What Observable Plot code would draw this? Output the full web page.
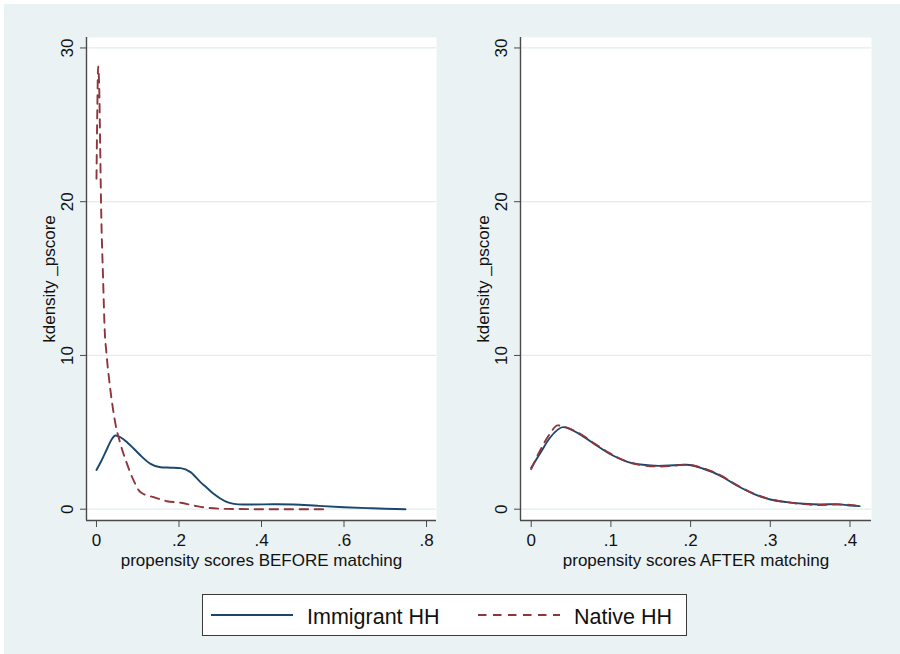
<!DOCTYPE html>
<html>
<head>
<meta charset="utf-8">
<script src="https://cdn.jsdelivr.net/npm/d3@7"></script>
<script src="https://cdn.jsdelivr.net/npm/@observablehq/plot@0.6"></script>
<style>
  html, body { margin: 0; padding: 0; background: #ffffff; }
  #page { position: relative; width: 900px; height: 654px; overflow: hidden;
          font-family: "Liberation Sans", Arial, sans-serif; }
  #bg { position: absolute; left: 4px; top: 4px; width: 896px; height: 650px; background: #EAF2F3; }
  .panel { position: absolute; top: 0; }
  #legend { position: absolute; left: 202px; top: 594px; }
</style>
</head>
<body>
<div id="page">
  <div id="bg"></div>
  <div id="left" class="panel" style="left:0px"></div>
  <div id="right" class="panel" style="left:450px"></div>
  <div id="legend"></div>
</div>
<script>
// Series
const seriesNames = ["Immigrant HH", "Native HH"];
const seriesColors = ["#1A476F", "#90353B"];
const seriesDash = [null, "8.5,6.5"];

// Kernel density of the propensity score, before matching
const beforeImmigrantX = [0, 0.012, 0.026, 0.036, 0.046, 0.06, 0.074, 0.09, 0.107, 0.131, 0.155, 0.18, 0.204, 0.228, 0.252, 0.268, 0.284, 0.3, 0.317, 0.333, 0.355, 0.381, 0.43, 0.478, 0.535, 0.6, 0.656, 0.7, 0.749];
const beforeImmigrantY = [2.55, 3.15, 3.95, 4.5, 4.79, 4.65, 4.36, 3.95, 3.49, 2.95, 2.73, 2.7, 2.67, 2.41, 1.76, 1.38, 1.0, 0.7, 0.46, 0.35, 0.31, 0.31, 0.32, 0.31, 0.22, 0.13, 0.07, 0.03, 0.0];
const beforeNativeX = [0, 0.002, 0.004, 0.007, 0.009, 0.011, 0.016, 0.02, 0.024, 0.034, 0.046, 0.058, 0.074, 0.09, 0.107, 0.139, 0.171, 0.204, 0.236, 0.268, 0.317, 0.4, 0.563];
const beforeNativeY = [21.5, 26, 28.8, 27, 23.5, 20, 15, 11.6, 10.2, 7.7, 5.55, 4.25, 2.95, 1.87, 1.1, 0.78, 0.52, 0.42, 0.24, 0.09, 0.02, 0.0, 0.0];

// Kernel density of the propensity score, after matching
const afterImmigrantX = [0, 0.012, 0.024, 0.04, 0.06, 0.08, 0.1, 0.12, 0.14, 0.16, 0.18, 0.195, 0.216, 0.237, 0.258, 0.279, 0.3, 0.321, 0.342, 0.363, 0.384, 0.4, 0.412];
const afterImmigrantY = [2.69, 3.71, 4.68, 5.34, 4.9, 4.21, 3.56, 3.1, 2.89, 2.82, 2.86, 2.89, 2.63, 2.19, 1.54, 1.0, 0.63, 0.46, 0.35, 0.31, 0.33, 0.24, 0.2];
const afterNativeX = [0, 0.012, 0.024, 0.033, 0.045, 0.06, 0.08, 0.1, 0.12, 0.14, 0.16, 0.18, 0.195, 0.216, 0.237, 0.258, 0.279, 0.3, 0.321, 0.342, 0.363, 0.384, 0.4, 0.412];
const afterNativeY = [2.6, 3.9, 4.95, 5.45, 5.3, 4.95, 4.25, 3.6, 3.1, 2.85, 2.78, 2.84, 2.9, 2.66, 2.22, 1.57, 1.02, 0.65, 0.45, 0.33, 0.27, 0.3, 0.28, 0.2];

// Axis ticks and titles
const beforeXTicks = [0, 0.2, 0.4, 0.6, 0.8];
const afterXTicks = [0, 0.1, 0.2, 0.3, 0.4];
const yTicks = [0, 10, 20, 30];
const yTitle = "kdensity _pscore";
const beforeXTitle = "propensity scores BEFORE matching";
const afterXTitle = "propensity scores AFTER matching";

const fontFamily = "'Liberation Sans', Arial, sans-serif";
const axisColor = "#4a4a4a";
const gridColor = "#E2EBED";

const toRows = (xs, ys) => xs.map((x, i) => ({x, y: ys[i]}));
const stataFormat = d => d === 0 ? "0" : String(+d.toFixed(2)).replace(/^0\./, ".");

function panel({marginLeft, marginRight, xDomain, xTicks, xTitle, curves}) {
  const yDomain = [-0.735, 30.68];
  return Plot.plot({
    width: 450,
    height: 580,
    marginLeft, marginRight,
    marginTop: 37,
    marginBottom: 60,
    style: {background: "transparent", fontFamily, fontSize: "17px", color: "#111", overflow: "visible"},
    x: {domain: xDomain, label: null},
    y: {domain: yDomain, label: null},
    marks: [
      Plot.frame({fill: "white", stroke: null}),
      Plot.ruleY(yTicks, {stroke: gridColor, strokeWidth: 1.3}),
      ...curves.map((rows, i) => Plot.line(rows, {
        x: "x", y: "y",
        stroke: seriesColors[i],
        strokeWidth: 1.9,
        strokeDasharray: seriesDash[i],
        curve: "monotone-x"
      })),
      Plot.ruleX([xDomain[0]], {stroke: axisColor, strokeWidth: 1.4}),
      Plot.ruleY([yDomain[0]], {stroke: axisColor, strokeWidth: 1.4}),
      Plot.axisX(xTicks, {tickSize: 7, tickPadding: 6, tickFormat: stataFormat, stroke: axisColor, label: null}),
      Plot.axisY(yTicks, {tickSize: 6, tickPadding: 8, tickRotate: -90, tickFormat: d => String(d), stroke: axisColor, label: null}),
      Plot.text([xTitle], {text: d => d, frameAnchor: "bottom", dy: 45, lineAnchor: "bottom", fill: "#111"}),
      Plot.text([yTitle], {text: d => d, frameAnchor: "left", dx: -32, rotate: -90, lineAnchor: "bottom", textAnchor: "middle", fill: "#111"})
    ]
  });
}

document.getElementById("left").append(panel({
  marginLeft: 86, marginRight: 14,
  xDomain: [-0.0242, 0.8242],
  xTicks: beforeXTicks,
  xTitle: beforeXTitle,
  curves: [toRows(beforeImmigrantX, beforeImmigrantY), toRows(beforeNativeX, beforeNativeY)]
}));

document.getElementById("right").append(panel({
  marginLeft: 70, marginRight: 29,
  xDomain: [-0.01343, 0.42698],
  xTicks: afterXTicks,
  xTitle: afterXTitle,
  curves: [toRows(afterImmigrantX, afterImmigrantY), toRows(afterNativeX, afterNativeY)]
}));

// Legend box below the panels
const legendW = 485, legendH = 42;
const legend = d3.select("#legend").append("svg")
  .attr("width", legendW).attr("height", legendH)
  .style("display", "block").style("font-family", fontFamily);
legend.append("rect")
  .attr("x", 0.5).attr("y", 0.5).attr("width", legendW - 1).attr("height", legendH - 1)
  .attr("fill", "white").attr("stroke", "#3a3a3a").attr("stroke-width", 1);
const keyX = [9, 276];
seriesNames.forEach((name, i) => {
  legend.append("line")
    .attr("x1", keyX[i]).attr("x2", keyX[i] + 82)
    .attr("y1", 21).attr("y2", 21)
    .attr("stroke", seriesColors[i]).attr("stroke-width", 1.9)
    .attr("stroke-dasharray", seriesDash[i]);
  legend.append("text")
    .attr("x", keyX[i] + 96).attr("y", 29.5)
    .attr("font-size", 21.5).attr("fill", "#111")
    .text(name);
});
</script>
</body>
</html>
